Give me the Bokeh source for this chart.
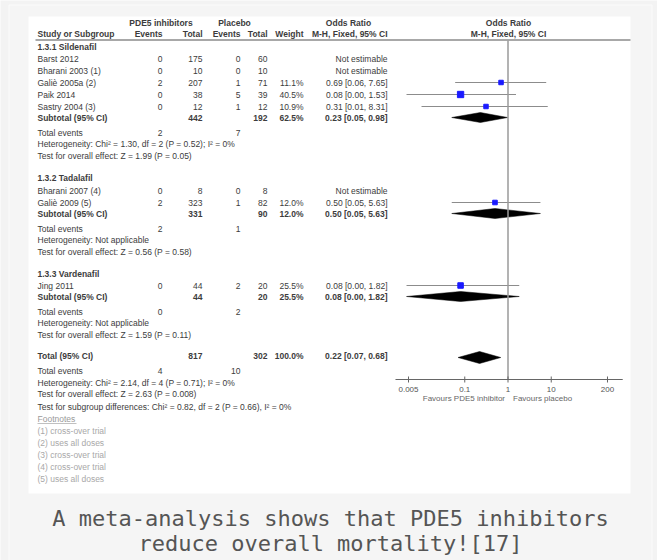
from bokeh.plotting import figure
from bokeh.models import Range1d, LogScale
from bokeh.core.properties import value
from bokeh.embed import file_html
from bokeh.resources import INLINE

# ---------------- data ----------------
groups = ["1.3.1 Sildenafil", "1.3.2 Tadalafil", "1.3.3 Vardenafil"]
study = ["Barst 2012", "Bharani 2003 (1)", "Galiè 2005a (2)", "Paik 2014", "Sastry 2004 (3)",
         "Bharani 2007 (4)", "Galiè 2009 (5)", "Jing 2011"]
study_group = [0, 0, 0, 0, 0, 1, 1, 2]
exp_events = [0, 0, 2, 0, 0, 0, 2, 0]
exp_total = [175, 10, 207, 38, 12, 8, 323, 44]
ctl_events = [0, 0, 1, 5, 1, 0, 1, 2]
ctl_total = [60, 10, 71, 39, 12, 8, 82, 20]
weight = [None, None, 11.1, 40.5, 10.9, None, 12.0, 25.5]
or_est = [None, None, 0.69, 0.08, 0.31, None, 0.50, 0.08]
or_lo = [None, None, 0.06, 0.0045, 0.01, None, 0.05, 0.0045]
or_hi = [None, None, 7.65, 1.53, 8.31, None, 5.63, 1.82]

sub_weight = [62.5, 12.0, 25.5]
sub_or = [0.23, 0.50, 0.08]
sub_lo = [0.05, 0.05, 0.0045]
sub_hi = [0.98, 5.63, 1.82]
sub_het = ["Heterogeneity: Chi² = 1.30, df = 2 (P = 0.52); I² = 0%",
           "Heterogeneity: Not applicable",
           "Heterogeneity: Not applicable"]
sub_test = ["Test for overall effect: Z = 1.99 (P = 0.05)",
            "Test for overall effect: Z = 0.56 (P = 0.58)",
            "Test for overall effect: Z = 1.59 (P = 0.11)"]

total_weight = 100.0
total_or, total_lo, total_hi = 0.22, 0.07, 0.68
total_het = "Heterogeneity: Chi² = 2.14, df = 4 (P = 0.71); I² = 0%"
total_test = "Test for overall effect: Z = 2.63 (P = 0.008)"
subgroup_diff = "Test for subgroup differences: Chi² = 0.82, df = 2 (P = 0.66), I² = 0%"
footnotes = ["(1) cross-over trial", "(2) uses all doses", "(3) cross-over trial",
             "(4) cross-over trial", "(5) uses all doses"]

ticks = [0.005, 0.1, 1, 10, 200]
tick_labels = ["0.005", "0.1", "1", "10", "200"]
caption = ["A meta-analysis shows that PDE5 inhibitors", "reduce overall mortality![17]"]

# ---------------- layout ----------------
W, H = 657, 560
OR1_X = 507.5      # page x of OR = 1
DEC = 43.24        # pixels per decade
COL_STUDY = 37
COL_EE, COL_ET, COL_CE, COL_CT, COL_W, COL_OR = 162, 202, 240, 267, 303, 387
FONT = value("Liberation Sans")
TXT = "#3c3c3c"

p = figure(width=W, height=H, output_backend="svg", toolbar_location=None,
           x_range=Range1d(0, W), y_range=Range1d(H, 0),
           x_axis_location=None, y_axis_location=None, min_border=0,
           background_fill_color="#f3f3f3", border_fill_color="#f3f3f3",
           outline_line_color=None)
p.grid.visible = False
p.extra_x_ranges = {"or": Range1d(10 ** ((0 - OR1_X) / DEC), 10 ** ((W - OR1_X) / DEC))}
p.extra_x_scales = {"or": LogScale()}

# card outline and white image area
p.quad(left=8.5, right=651.5, top=4.5, bottom=600, fill_color="#f5f5f5",
       line_color="#fbfbfb", line_width=1)
p.quad(left=28, right=630, top=16, bottom=493, fill_color="white", line_color=None)


def txt(xs, ys, texts, align="left", style="normal", color=TXT, size="8.5px", rng=None, xoff=0):
    kw = {}
    if rng:
        kw["x_range_name"] = rng
    p.text(x=xs, y=ys, text=texts, text_align=align, text_baseline="middle",
           text_font=FONT, text_font_size=size, text_font_style=style,
           text_color=color, x_offset=xoff, **kw)


def fmt_or(e, l, h):
    return f"{e:.2f} [{l:.2f}, {h:.2f}]"


# headers
txt([160.5], [22], ["PDE5 inhibitors"], "center", "bold")
txt([234], [22], ["Placebo"], "center", "bold")
txt([348], [22], ["Odds Ratio"], "center", "bold")
txt([508], [22], ["Odds Ratio"], "center", "bold")
txt([COL_STUDY], [33], ["Study or Subgroup"], "left", "bold")
txt([COL_EE, COL_ET, COL_CE, COL_CT, COL_W, COL_OR], [33] * 6,
    ["Events", "Total", "Events", "Total", "Weight", "M-H, Fixed, 95% CI"], "right", "bold")
txt([508], [33], ["M-H, Fixed, 95% CI"], "center", "bold")
p.segment(x0=[35], x1=[630], y0=[39.5], y1=[39.5], line_color="#a8a8a8", line_width=2)

# row positions
group_y = [46, 177, 273]
study_y = [58, 70, 82, 94, 106, 190, 202, 285]
subtotal_y = [117, 213, 296]
total_y = 355

# study rows
for i, name in enumerate(study):
    y = study_y[i]
    txt([COL_STUDY], [y], [name])
    txt([COL_EE, COL_ET, COL_CE, COL_CT], [y] * 4,
        [str(exp_events[i]), str(exp_total[i]), str(ctl_events[i]), str(ctl_total[i])], "right")
    if or_est[i] is None:
        txt([COL_OR], [y], ["Not estimable"], "right")
    else:
        txt([COL_W, COL_OR], [y, y], [f"{weight[i]:.1f}%", fmt_or(or_est[i], or_lo[i], or_hi[i])], "right")
        p.segment(x0=[or_lo[i]], x1=[or_hi[i]], y0=[y], y1=[y], x_range_name="or",
                  line_color="#8c8c8c", line_width=1)
        p.scatter(x=[or_est[i]], y=[y], marker="square", size=2.5 + 0.6 * weight[i] ** 0.5,
                  fill_color="#1a1aff", line_color="#1a1aff", x_range_name="or")

# subgroups
for g, gname in enumerate(groups):
    txt([COL_STUDY], [group_y[g]], [gname], "left", "bold")
    idx = [i for i in range(len(study)) if study_group[i] == g]
    ys = subtotal_y[g]
    txt([COL_STUDY], [ys], ["Subtotal (95% CI)"], "left", "bold")
    txt([COL_ET, COL_CT, COL_W, COL_OR], [ys] * 4,
        [str(sum(exp_total[i] for i in idx)), str(sum(ctl_total[i] for i in idx)),
         f"{sub_weight[g]:.1f}%", fmt_or(sub_or[g], sub_lo[g], sub_hi[g])], "right", "bold")
    txt([COL_STUDY], [ys + 15], ["Total events"])
    txt([COL_EE, COL_CE], [ys + 15] * 2,
        [str(sum(exp_events[i] for i in idx)), str(sum(ctl_events[i] for i in idx))], "right")
    txt([COL_STUDY], [ys + 26], [sub_het[g]])
    txt([COL_STUDY], [ys + 38], [sub_test[g]])
    p.patches(xs=[[sub_lo[g], sub_or[g], sub_hi[g], sub_or[g]]],
              ys=[[ys, ys - 5, ys, ys + 5]], x_range_name="or",
              fill_color="black", line_color="black", line_width=0.5)

# overall
txt([COL_STUDY], [total_y], ["Total (95% CI)"], "left", "bold")
txt([COL_ET, COL_CT, COL_W, COL_OR], [total_y] * 4,
    [str(sum(exp_total)), str(sum(ctl_total)), f"{total_weight:.1f}%",
     fmt_or(total_or, total_lo, total_hi)], "right", "bold")
p.patches(xs=[[total_lo, total_or, total_hi, total_or]],
          ys=[[total_y + 2, total_y - 4, total_y + 2, total_y + 8]], x_range_name="or",
          fill_color="black", line_color="black", line_width=0.5)
txt([COL_STUDY], [total_y + 15], ["Total events"])
txt([COL_EE, COL_CE], [total_y + 15] * 2, [str(sum(exp_events)), str(sum(ctl_events))], "right")
txt([COL_STUDY], [total_y + 27], [total_het])
txt([COL_STUDY], [total_y + 38], [total_test])
txt([COL_STUDY], [total_y + 51], [subgroup_diff])
txt([COL_STUDY], [total_y + 63], ["Footnotes"], color="#9a9a9a")
p.segment(x0=[COL_STUDY], x1=[COL_STUDY + 39], y0=[total_y + 68], y1=[total_y + 68],
          line_color="#b0b0b0", line_width=0.8)
txt([COL_STUDY] * len(footnotes), [total_y + 75 + 12.2 * k for k in range(len(footnotes))],
    footnotes, color="#a8a8a8")

# forest plot: line of no effect and axis
p.segment(x0=[1], x1=[1], y0=[40], y1=[379], x_range_name="or", line_color="#9a9a9a", line_width=1.5)
p.segment(x0=[0.0025], x1=[450], y0=[379], y1=[379], x_range_name="or", line_color="#666666", line_width=1)
p.segment(x0=ticks, x1=ticks, y0=[376] * len(ticks), y1=[382] * len(ticks), x_range_name="or",
          line_color="#666666", line_width=1)
txt(ticks, [389] * len(ticks), tick_labels, "center", color="#555555", size="8px", rng="or")
txt([1], [398], ["Favours PDE5 inhibitor"], "right", color="#666666", size="8px", rng="or", xoff=-3)
txt([1], [398], ["Favours placebo"], "left", color="#666666", size="8px", rng="or", xoff=5)

# caption
p.text(x=[330, 330], y=[518, 543], text=caption, text_align="center", text_baseline="middle",
       text_font=value("DejaVu Sans Mono"), text_font_size="22px", text_color="#555555")

open("out.html", "w").write(file_html(p, INLINE))
